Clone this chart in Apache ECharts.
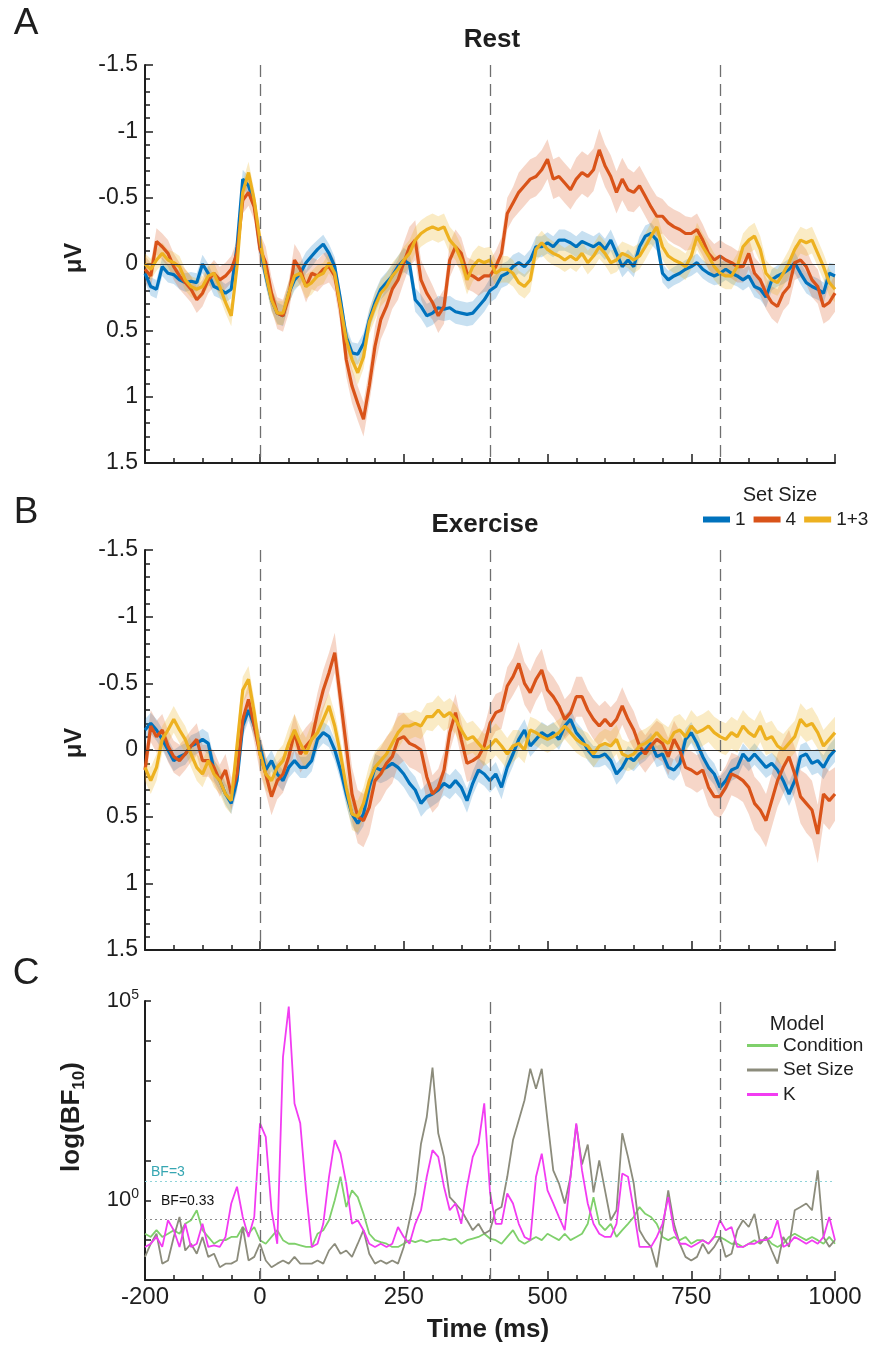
<!DOCTYPE html>
<html>
<head>
<meta charset="utf-8">
<title>ERP by set size – Rest / Exercise</title>
<script src="https://cdn.jsdelivr.net/npm/echarts@6/dist/echarts.min.js"></script>
<style>
  html, body { margin: 0; padding: 0; background: #fff; }
  #chart { width: 883px; height: 1345px; }
</style>
</head>
<body>
<div id="chart"></div>
<script>
// ---- sampling grid (ms) ----
const T_START = -200;
const T_STEP = 10;
const N_SAMPLES = 121;

// ---- Rest: mean amplitude (µV), one value per 10 ms from -200 to 1000 ----
const restSize1 = [
  0.07,0.17,0.19,0.02,0.07,0.08,0.12,0.14,0.13,0.14,
  0.0,0.07,0.17,0.19,0.22,0.19,-0.13,-0.64,-0.59,-0.46,
  -0.13,0.09,0.27,0.37,0.39,0.22,0.12,0.07,-0.01,-0.06,
  -0.11,-0.15,-0.08,0.02,0.27,0.55,0.67,0.68,0.6,0.42,
  0.29,0.19,0.14,0.09,0.02,-0.03,0.0,0.27,0.32,0.39,
  0.37,0.33,0.34,0.33,0.36,0.37,0.38,0.37,0.32,0.27,
  0.2,0.17,0.09,0.07,0.02,-0.01,0.02,-0.03,-0.13,-0.13,
  -0.16,-0.13,-0.18,-0.18,-0.16,-0.13,-0.17,-0.15,-0.13,-0.16,
  -0.11,-0.18,-0.08,0.02,-0.03,0.02,-0.13,-0.21,-0.23,-0.18,
  0.07,0.12,0.09,0.07,0.04,0.02,-0.01,0.04,0.07,0.09,
  0.07,0.04,0.07,0.09,0.12,0.09,0.17,0.19,0.25,0.12,
  0.09,0.07,0.04,-0.01,0.07,0.14,0.17,0.19,0.22,0.07,
  0.09
];
const restSize4 = [
  0.04,0.09,-0.17,-0.13,-0.08,0.02,0.09,0.14,0.19,0.27,
  0.22,0.12,0.07,0.12,0.09,0.04,-0.08,-0.48,-0.54,-0.43,
  -0.11,-0.01,0.22,0.37,0.39,0.25,-0.03,0.04,0.17,0.07,
  0.09,0.04,0.02,0.09,0.34,0.72,0.92,1.05,1.17,0.92,
  0.62,0.42,0.32,0.19,0.12,-0.01,-0.13,-0.18,0.12,0.22,
  0.29,0.39,0.32,-0.03,-0.13,-0.08,0.07,0.09,0.12,0.09,
  0.09,0.02,-0.08,-0.38,-0.46,-0.54,-0.59,-0.64,-0.66,-0.71,
  -0.79,-0.64,-0.66,-0.61,-0.56,-0.64,-0.69,-0.66,-0.71,-0.86,
  -0.74,-0.66,-0.54,-0.64,-0.56,-0.54,-0.59,-0.51,-0.43,-0.36,
  -0.36,-0.31,-0.28,-0.26,-0.23,-0.23,-0.26,-0.18,-0.08,-0.03,
  -0.06,-0.03,-0.01,0.02,0.02,-0.08,0.07,0.12,0.22,0.29,
  0.32,0.22,0.17,-0.01,-0.03,0.02,0.12,0.17,0.32,0.29,
  0.22
];
const restSize13 = [
  0.0,0.04,-0.03,-0.08,-0.03,-0.01,0.02,0.12,0.17,0.19,
  0.17,0.09,0.07,0.17,0.29,0.39,0.02,-0.54,-0.69,-0.48,
  -0.18,0.07,0.27,0.37,0.37,0.22,0.09,0.07,0.17,0.14,
  0.09,0.07,-0.01,0.07,0.32,0.57,0.72,0.82,0.7,0.44,
  0.32,0.22,0.17,0.09,0.04,-0.03,-0.08,-0.18,-0.23,-0.26,
  -0.28,-0.26,-0.28,-0.18,-0.13,-0.03,0.12,0.02,-0.03,-0.01,
  -0.03,0.07,0.04,0.04,0.07,0.14,0.17,0.12,-0.11,-0.16,
  -0.11,-0.08,-0.06,-0.03,-0.06,-0.03,-0.08,-0.01,-0.06,-0.13,
  -0.08,-0.01,-0.03,-0.08,-0.06,-0.03,-0.06,-0.13,-0.21,-0.28,
  -0.13,-0.06,-0.03,-0.01,0.02,-0.06,-0.21,-0.13,-0.06,0.02,
  0.07,0.09,0.09,0.02,-0.13,-0.18,-0.21,-0.11,0.07,0.12,
  0.14,0.07,-0.01,-0.11,-0.18,-0.16,-0.18,-0.08,0.02,0.14,
  0.19
];

// ---- Exercise: mean amplitude (µV) ----
const exSize1 = [
  -0.15,-0.2,-0.15,-0.08,0,0.08,0.05,0.03,-0.03,-0.05,
  -0.08,-0.05,0.15,0.23,0.33,0.4,0.23,-0.18,-0.3,-0.18,
  -0.03,0.15,0.08,0.18,0.23,0.13,0.08,0.13,0.13,0.08,
  -0.08,-0.13,-0.1,0,0.15,0.33,0.48,0.55,0.48,0.28,
  0.13,0.15,0.13,0.1,0.13,0.18,0.25,0.3,0.4,0.35,
  0.33,0.3,0.25,0.28,0.23,0.28,0.38,0.25,0.15,0.18,
  0.23,0.18,0.28,0.13,0.03,-0.08,-0.15,-0.03,-0.08,-0.13,
  -0.1,-0.13,-0.08,-0.18,-0.23,-0.13,-0.08,0,0.05,0.05,
  0.03,0.08,0.18,0.13,0.05,0.08,0.03,0,-0.05,0.05,
  0.03,0.13,0.15,0.1,-0.08,-0.13,-0.05,0.05,0.13,0.18,
  0.28,0.23,0.15,0.13,0.03,0.08,0.03,0.08,0.13,0.1,
  0.15,0.23,0.33,0.23,0.05,0.03,0.1,0.08,0.13,0.05,
  0
];
const exSize4 = [
  0.15,-0.18,-0.1,-0.15,-0.03,0.05,0.08,0.03,-0.03,-0.08,
  0.08,0.08,0.13,0.23,0.15,0.33,0.18,-0.23,-0.38,-0.18,
  0.03,0.18,0.35,0.23,0.18,0.05,-0.13,0.03,-0.03,-0.08,
  -0.28,-0.45,-0.58,-0.73,-0.38,-0.03,0.33,0.5,0.53,0.43,
  0.23,0.18,0.1,0.05,-0.08,-0.1,-0.05,-0.03,0,0.2,
  0.33,0.28,0.15,-0.13,-0.28,-0.08,0.1,0.08,0.05,-0.03,
  -0.2,-0.28,-0.3,-0.48,-0.55,-0.65,-0.5,-0.43,-0.53,-0.6,
  -0.45,-0.4,-0.33,-0.23,-0.28,-0.4,-0.4,-0.3,-0.23,-0.18,
  -0.23,-0.18,-0.23,-0.33,-0.23,-0.15,-0.03,0.03,-0.03,-0.08,
  -0.05,0.05,-0.08,0,0.13,0.15,0.18,0.15,0.28,0.35,
  0.35,0.28,0.18,0.2,0.23,0.28,0.4,0.45,0.53,0.38,
  0.23,0.13,0.05,0.18,0.35,0.4,0.45,0.63,0.33,0.38,
  0.33
];
const exSize13 = [
  0.13,0.23,0.13,-0.08,-0.15,-0.23,-0.15,-0.08,0.03,0.13,
  0.18,0.08,0.18,0.23,0.33,0.38,-0.03,-0.45,-0.53,-0.28,
  0.03,0.18,0.23,0.13,0.08,-0.05,-0.15,-0.05,0.03,-0.08,
  -0.13,-0.23,-0.33,-0.18,0.03,0.28,0.48,0.5,0.4,0.23,
  0.13,0.08,0.03,-0.05,-0.13,-0.18,-0.18,-0.2,-0.18,-0.25,
  -0.25,-0.3,-0.25,-0.28,-0.23,-0.15,-0.08,-0.1,-0.05,0,
  -0.03,-0.08,-0.03,0.03,-0.03,-0.05,0,-0.15,-0.13,-0.1,
  -0.08,-0.1,-0.13,-0.18,-0.13,-0.08,-0.05,-0.03,0.03,-0.03,
  -0.05,-0.03,-0.08,0.03,0.05,0.03,-0.03,-0.05,-0.08,-0.13,
  -0.08,-0.05,-0.13,-0.15,-0.1,-0.18,-0.13,-0.15,-0.18,-0.13,
  -0.1,-0.08,-0.13,-0.1,-0.18,-0.13,-0.1,-0.18,-0.08,-0.1,
  -0.03,0,-0.05,-0.1,-0.23,-0.18,-0.2,-0.13,-0.03,-0.08,
  -0.13
];

// ---- standard error (µV), one value per 50 ms bin (-200..1000) ----
const restSe1  = [0.07,0.07,0.07,0.07,0.08,0.08,0.07,0.08,0.08,0.09,0.09,0.09,0.09,0.08,0.08,0.08,0.08,0.08,0.07,0.07,0.08,0.08,0.08,0.08,0.09];
const restSe4  = [0.1,0.1,0.1,0.1,0.12,0.12,0.12,0.13,0.15,0.15,0.13,0.12,0.12,0.15,0.15,0.16,0.16,0.15,0.13,0.12,0.12,0.12,0.13,0.13,0.14];
const restSe13 = [0.08,0.08,0.08,0.08,0.09,0.09,0.08,0.09,0.1,0.1,0.1,0.11,0.1,0.09,0.09,0.09,0.09,0.1,0.1,0.1,0.1,0.1,0.1,0.1,0.1];
const exSe1    = [0.08,0.08,0.08,0.08,0.08,0.08,0.08,0.09,0.1,0.1,0.09,0.09,0.09,0.08,0.08,0.08,0.08,0.08,0.08,0.08,0.08,0.08,0.09,0.09,0.09];
const exSe4    = [0.12,0.12,0.12,0.12,0.14,0.14,0.15,0.2,0.2,0.18,0.14,0.14,0.14,0.16,0.15,0.15,0.14,0.14,0.14,0.14,0.16,0.2,0.2,0.22,0.2];
const exSe13   = [0.1,0.1,0.1,0.1,0.12,0.12,0.1,0.12,0.12,0.1,0.11,0.12,0.12,0.1,0.1,0.1,0.11,0.11,0.12,0.12,0.12,0.12,0.12,0.12,0.12];

// ---- Bayes factors, log10(BF10) per 10 ms ----
const logBfCondition = [
  -0.84,-0.92,-0.75,-0.92,-0.84,-0.75,-0.84,-0.59,-0.5,-0.25,
  -0.75,-0.92,-1.09,-1.0,-1.0,-0.92,-0.92,-0.67,-0.84,-0.67,
  -1.0,-1.09,-0.92,-0.75,-1.0,-1.09,-1.09,-1.13,-1.17,-1.17,
  -0.84,-0.75,-0.5,0,0.59,-0.17,0.25,0.08,-0.34,-0.84,
  -1.0,-1.05,-1.09,-1.17,-1.17,-1.09,-1.0,-1.05,-1.0,-1.05,
  -1.0,-1.0,-0.96,-1.0,-0.96,-1.09,-1.0,-0.96,-0.92,-0.84,
  -0.96,-1.0,-1.09,-0.92,-0.75,-1.0,-1.09,-1.0,-0.92,-1.0,
  -0.84,-0.92,-1.0,-0.84,-1.0,-0.92,-0.84,-0.59,0.08,-0.59,
  -0.75,-0.59,-0.92,-0.75,-0.59,-0.42,-0.17,-0.34,-0.42,-0.59,
  -0.92,-1.0,-0.92,-1.0,-0.92,-1.09,-1.0,-1.0,-1.09,-0.92,
  -0.92,-1.0,-1.09,-1.09,-1.17,-1.09,-1.0,-1.09,-0.92,-1.09,
  -1.17,-1.09,-0.92,-0.84,-0.92,-1.0,-0.92,-1.0,-1.09,-0.92,
  -1.09
];
const logBfSetSize = [
  -1.42,-1.09,-0.84,-1.59,-1.51,-0.92,-0.42,-1.26,-1.09,-1.34,
  -0.92,-1.42,-1.34,-1.68,-1.59,-1.59,-1.51,-0.67,-1.51,-1.42,
  -1.09,-1.51,-1.68,-1.59,-1.51,-1.59,-1.42,-1.59,-1.59,-1.59,
  -1.51,-1.59,-1.26,-1.09,-1.34,-1.26,-1.42,-1.09,-0.75,-1.34,
  -1.59,-1.51,-1.59,-1.51,-1.59,-1.17,-0.5,0.17,1.42,2.09,
  3.33,1.68,1.09,0.08,-0.08,-0.25,-0.5,-0.75,-0.59,-0.84,
  -0.75,-0.25,-0.17,0.59,1.51,2.01,2.51,3.3,2.8,3.3,
  2.0,0.75,0.42,-0.08,0.59,1.9,0.9,1.4,0.2,1.0,
  0.25,-0.5,-0.25,1.68,1.09,0.42,-0.75,-1.0,-1.17,-1.68,
  -0.75,0.25,-0.59,-1.09,-1.42,-1.51,-1.42,-1.09,-1.34,-1.17,
  -0.92,-1.42,-1.34,-0.75,-0.5,-0.67,-0.34,-1.09,-0.92,-1.26,
  -1.59,-0.92,-1.17,-0.25,-0.17,-0.08,-0.25,0.75,-0.92,-1.17,
  -1.0
];
const logBfK = [
  -1.17,-1.09,-0.92,-1.17,-0.5,-0.75,-1.17,-0.59,-1.17,-1.09,
  -0.59,-1.17,-1.13,-1.17,-0.92,-0.08,0.34,-0.42,-0.92,-0.42,
  1.93,1.59,-0.25,-1.09,3.6,4.86,2.43,1.93,0.25,-1.17,
  -1.09,-0.59,0.59,1.51,1.17,0.42,-0.59,-0.5,-0.75,-1.09,
  -1.17,-1.09,-1.17,-1.09,-0.67,-0.92,-1.09,-0.59,-0.25,0.59,
  1.26,1.09,0.34,-0.25,-0.08,-0.59,0.34,1.09,1.42,2.43,
  0.2,-0.59,-0.59,0.17,-0.08,-0.59,-0.92,-1.0,0.59,1.17,
  0.25,-0.08,-0.42,-0.75,0.59,1.93,0.75,-0.08,-0.59,-0.84,
  -0.92,-0.92,-0.59,0.67,0.59,-0.25,-1.17,-1.17,-1.17,-0.92,
  -0.59,0.08,-0.75,-1.09,-1.09,-1.17,-1.09,-1.0,-1.09,-0.92,
  -0.5,-0.75,-0.67,-1.17,-1.17,-1.09,-1.09,-1.0,-1.0,-0.92,
  -0.5,-1.17,-1.09,-0.92,-1.0,-1.09,-1.0,-1.09,-0.92,-0.42,
  -1.0
];

// ---- labels ----
const setSizeNames = ['1', '4', '1+3'];
const modelNames = ['Condition', 'Set Size', 'K'];
const eventTimes = [0, 400, 800];
const bfThresholds = [3, 0.33];
const xLabelTicks = [-200, 0, 250, 500, 750, 1000];

// ---- styling ----
const FONT = 'Liberation Sans, Arial, Helvetica, sans-serif';
const INK = '#1e1e1e';
const ERP_COLORS = ['#0072BD', '#D95319', '#EDB120'];
const BAND_COLORS = ['rgba(0,114,189,0.22)', 'rgba(217,83,25,0.24)', 'rgba(237,177,32,0.26)'];
const BF_COLORS = ['#7fd06b', '#8c8c7c', '#f23cf2'];

const times = [];
for (let i = 0; i < N_SAMPLES; i++) times.push(T_START + i * T_STEP);
const seAt = (se, i) => se[Math.min(se.length - 1, Math.floor(i / 5))];

const grids = [
  { left: 145, top: 65, width: 690, height: 398 },
  { left: 145, top: 550, width: 690, height: 400 },
  { left: 145, top: 1001, width: 690, height: 279 }
];

function xAxesFor(g, withLabels) {
  return [
    {
      type: 'value', gridIndex: g, min: -200, max: 1000, interval: 50, position: 'bottom',
      axisLine: { show: true, onZero: false, lineStyle: { color: INK, width: 2 } },
      axisTick: { show: true, inside: true, length: 5, lineStyle: { color: INK, width: 1.5 } },
      splitLine: { show: false },
      axisLabel: {
        show: withLabels, interval: 0, margin: 5, color: INK, fontSize: 24, fontFamily: FONT,
        formatter: v => (xLabelTicks.indexOf(v) >= 0 ? String(v) : '')
      }
    },
    {
      type: 'value', gridIndex: g, min: -200, max: 1000, position: 'bottom',
      axisLine: { show: false, onZero: false },
      axisTick: { show: true, inside: true, length: 9, customValues: [0, 250, 500, 750, 1000],
        lineStyle: { color: INK, width: 1.5 } },
      axisLabel: { show: false },
      splitLine: { show: false }
    }
  ];
}

function uvAxis(g) {
  return {
    type: 'value', gridIndex: g, min: -1.5, max: 1.5, interval: 0.5, inverse: true,
    axisLine: { show: true, onZero: false, lineStyle: { color: INK, width: 2 } },
    axisTick: { show: true, inside: true, length: 8, lineStyle: { color: INK, width: 1.5 } },
    minorTick: { show: true, splitNumber: 5, length: 5, lineStyle: { color: INK, width: 1.5 } },
    splitLine: { show: false },
    minorSplitLine: { show: false },
    axisLabel: { margin: 7, color: INK, fontSize: 23, fontFamily: FONT }
  };
}

const bfAxis = {
  type: 'value', gridIndex: 2, min: -2, max: 5, interval: 1,
  axisLine: { show: true, onZero: false, lineStyle: { color: INK, width: 2 } },
  axisTick: { show: true, inside: true, length: 6, lineStyle: { color: INK, width: 1.5 } },
  splitLine: { show: false },
  axisLabel: {
    margin: 6, color: INK, fontFamily: FONT,
    formatter: v => (v === 0 || v === 5 ? '{b|10}{s|' + v + '}' : ''),
    rich: {
      b: { fontSize: 22, lineHeight: 26, fontFamily: FONT, color: INK },
      s: { fontSize: 14, lineHeight: 15, verticalAlign: 'top', fontFamily: FONT, color: INK }
    }
  }
};

const eventLines = eventTimes.map(t => ({
  xAxis: t, lineStyle: { color: '#6f6f6f', width: 1.3, type: [12, 7] }
}));

// Shaded mean ± SE band, drawn as one polygon through the axis scales
function bandSeries(g, idx, mean, se, withMarks) {
  const rows = mean.map((v, i) => [times[i], +(v - seAt(se, i)).toFixed(3), +(v + seAt(se, i)).toFixed(3)]);
  const s = {
    type: 'custom', name: setSizeNames[idx] + ' band', xAxisIndex: g * 2, yAxisIndex: g,
    silent: true, animation: false, clip: true,
    data: rows,
    encode: { x: 0, y: [1, 2] },
    renderItem: function (params, api) {
      if (params.dataIndex !== 0) return null;
      const upper = rows.map(r => api.coord([r[0], r[2]]));
      const lower = rows.map(r => api.coord([r[0], r[1]])).reverse();
      return {
        type: 'polygon',
        shape: { points: upper.concat(lower) },
        style: { fill: BAND_COLORS[idx], stroke: null }
      };
    }
  };
  if (withMarks) {
    s.markLine = {
      silent: true, symbol: ['none', 'none'], animation: false, label: { show: false },
      data: eventLines.concat([{ yAxis: 0, lineStyle: { color: '#333', width: 1.2, type: 'solid' } }])
    };
  }
  return s;
}

function meanSeries(g, idx, mean) {
  return {
    type: 'line', name: setSizeNames[idx], xAxisIndex: g * 2, yAxisIndex: g,
    symbol: 'none', silent: true, animation: false, color: ERP_COLORS[idx],
    data: mean.map((v, i) => [times[i], v]),
    lineStyle: { width: 3.2, color: ERP_COLORS[idx] }
  };
}

const series = [];
[[restSize1, restSe1], [restSize4, restSe4], [restSize13, restSe13]].forEach((p, k) => {
  series.push(bandSeries(0, k, p[0], p[1], k === 0), meanSeries(0, k, p[0]));
});
[[exSize1, exSe1], [exSize4, exSe4], [exSize13, exSe13]].forEach((p, k) => {
  series.push(bandSeries(1, k, p[0], p[1], k === 0), meanSeries(1, k, p[0]));
});
[logBfCondition, logBfSetSize, logBfK].forEach((vals, k) => {
  const s = {
    type: 'line', name: modelNames[k], xAxisIndex: 4, yAxisIndex: 2, symbol: 'none',
    color: BF_COLORS[k], silent: true, animation: false,
    data: vals.map((v, i) => [times[i], v]),
    lineStyle: { width: 1.8, color: BF_COLORS[k] }
  };
  if (k === 0) {
    s.markLine = {
      silent: true, symbol: ['none', 'none'], animation: false,
      data: eventLines.map(e => Object.assign({}, e, { label: { show: false } })).concat([
        { yAxis: Math.log10(bfThresholds[0]),
          lineStyle: { color: '#8fd3d8', width: 1.2, type: [2, 3] },
          label: { show: true, position: 'insideStartTop', formatter: 'BF=3', color: '#36a6b2',
            fontSize: 14, fontFamily: FONT, distance: 2, padding: [0, 0, 0, 4] } },
        { yAxis: Math.log10(bfThresholds[1]),
          lineStyle: { color: '#8a8a8a', width: 1.2, type: [2, 3] },
          label: { show: true, position: 'insideStartTop', formatter: 'BF=0.33', color: '#111',
            fontSize: 14, fontFamily: FONT, distance: 3, padding: [0, 0, 8, 13] } }
      ])
    };
  }
  series.push(s);
});

const graphicText = (x, y, text, font, extra) => Object.assign({
  type: 'text', x: x, y: y, silent: true,
  style: { text: text, font: font, fill: INK, textAlign: 'center', textVerticalAlign: 'middle' }
}, extra || {});

const option = {
  animation: false,
  backgroundColor: '#fff',
  grid: grids.map(g => Object.assign({ containLabel: false, outerBoundsMode: 'none' }, g)),
  xAxis: [].concat(xAxesFor(0, false), xAxesFor(1, false), xAxesFor(2, true)),
  yAxis: [uvAxis(0), uvAxis(1), bfAxis],
  legend: [
    {
      data: setSizeNames, orient: 'horizontal', left: 698, top: 505,
      icon: 'rect', itemWidth: 27, itemHeight: 6, itemGap: 8, selectedMode: false,
      textStyle: { fontSize: 19, color: INK, fontFamily: FONT }
    },
    {
      data: modelNames, orient: 'vertical', left: 742, top: 1031,
      icon: 'rect', itemWidth: 31, itemHeight: 3, itemGap: 5.5, selectedMode: false,
      textStyle: { fontSize: 19, color: INK, fontFamily: FONT }
    }
  ],
  graphic: [
    graphicText(26, 24, 'A', '37px ' + FONT),
    graphicText(26, 513, 'B', '37px ' + FONT),
    graphicText(26, 974, 'C', '37px ' + FONT),
    graphicText(492, 40, 'Rest', 'bold 26px ' + FONT),
    graphicText(485, 525, 'Exercise', 'bold 26px ' + FONT),
    graphicText(780, 495, 'Set Size', '20px ' + FONT),
    graphicText(797, 1024, 'Model', '20px ' + FONT),
    graphicText(74, 258, 'μV', 'bold 24px ' + FONT, { rotation: Math.PI / 2 }),
    graphicText(74, 743, 'μV', 'bold 24px ' + FONT, { rotation: Math.PI / 2 }),
    graphicText(488, 1330, 'Time (ms)', 'bold 26px ' + FONT),
    {
      type: 'text', x: 72, y: 1117, rotation: Math.PI / 2, silent: true,
      style: {
        text: '{a|log(BF}{s|10}{a|)}', textAlign: 'center', textVerticalAlign: 'middle', fill: INK,
        rich: {
          a: { fontSize: 26, fontWeight: 'bold', fontFamily: FONT, lineHeight: 32, fill: INK },
          s: { fontSize: 17, fontWeight: 'bold', fontFamily: FONT, lineHeight: 17, verticalAlign: 'bottom', fill: INK }
        }
      }
    }
  ],
  series: series
};

const chart = echarts.init(document.getElementById('chart'), null, { renderer: 'canvas' });
chart.setOption(option);
</script>
</body>
</html>
